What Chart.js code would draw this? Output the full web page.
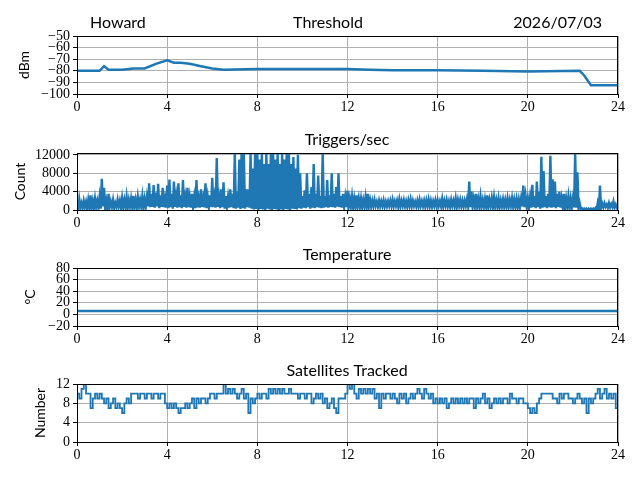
<!DOCTYPE html>
<html>
<head>
<meta charset="utf-8">
<script src="https://cdn.jsdelivr.net/npm/chart.js@4.4.1/dist/chart.umd.min.js"></script>
<style>
  html, body { margin: 0; padding: 0; background: #fff; }
  #page { position: relative; width: 640px; height: 480px; overflow: hidden; }
  #page canvas { position: absolute; left: 0; }
</style>
</head>
<body>
<div id="page"></div>
<script>
// hours of the day on the x axis
const hourTicks = [0, 4, 8, 12, 16, 20, 24];
const sampleStep = 0.1;   // h between samples of the dense series

// Threshold (dBm)
const thresholdHours = [0, 0.5, 1.0, 1.2, 1.4, 2.0, 2.5, 3.0, 3.5, 4.0, 4.3, 4.6, 5.0, 5.5, 6.0, 6.5, 8, 10, 12, 13, 14, 16, 18, 20, 22.3, 22.5, 22.8, 24];
const thresholdDbm = [-80, -80, -80, -76, -79, -79, -78, -78, -74, -71, -73, -73, -74, -76, -78, -79, -78.5, -78.5, -78.5, -79, -79.5, -79.5, -80, -80.5, -80, -84, -92.5, -92.5];
const thresholdTicks = [-100, -90, -80, -70, -60, -50];

// Triggers/sec: highs of the noisy trace at each 0.1 h, one row per hour
const triggerPeak = [
  1800, 2400, 1500, 2000, 1800, 2200, 3200, 2000, 2500, 2000,
  2800, 6800, 4800, 2000, 3500, 1800, 2200, 1500, 2200, 2000,
  2600, 2200, 2900, 2200, 2500, 3100, 2200, 2800, 2200, 3000,
  2400, 2800, 5800, 3500, 5400, 3800, 5700, 3200, 4800, 2400,
  5300, 6600, 3500, 6200, 3000, 5800, 3200, 6500, 2800, 4800,
  2800, 3500, 2800, 6500, 2500, 4500, 2600, 5800, 2800, 3200,
  7000, 2800, 11300, 2800, 4500, 6000, 3000, 2800, 4500, 3500,
  12400, 4000, 11000, 12400, 12400, 4500, 4500, 12400, 9000, 12400,
  12400, 11000, 12400, 10000, 12400, 10000, 12400, 12400, 11000, 12400,
  10000, 12400, 11000, 12400, 12400, 10000, 11500, 9000, 12000, 8000,
  3000, 4300, 8000, 3500, 5000, 10000, 3500, 7500, 3000, 12400,
  3000, 6500, 3200, 8000, 3500, 5000, 8000, 3000, 3500, 2800,
  4200, 2500, 3000, 2500, 3200, 2500, 2500, 2200, 2800, 3500,
  2200, 2000, 2200, 1800, 2000, 1900, 2100, 1800, 1900, 2000,
  2200, 1900, 2000, 2300, 2000, 2100, 1900, 2100, 2300, 2000,
  1800, 2000, 2200, 1900, 2000, 2100, 2300, 2000, 1900, 2100,
  2100, 1900, 2400, 2000, 2200, 1900, 2200, 2000, 2500, 2200,
  2200, 2000, 2000, 2300, 6200, 4000, 2500, 3500, 2400, 3000,
  2200, 2400, 3200, 2200, 2600, 2800, 2200, 2500, 2100, 2300,
  2200, 2500, 2200, 2600, 2300, 2400, 2300, 2500, 5300, 3000,
  2500, 2800, 5500, 3000, 6200, 4000, 11600, 8500, 3000, 3500,
  11800, 6700, 6200, 3500, 4000, 2500, 3500, 2500, 3000, 2500,
  2500, 12400, 8200, 1500, 400, 300, 300, 300, 300, 300,
  400, 1500, 5300, 1400, 1500, 1200, 1500, 1300, 1800, 1200,
  1000
];
// lows of the same trace, half a step after each high
const triggerFloor = [
  300, 600, 400, 700, 300, 600, 500, 400, 700, 500,
  300, 800, 500, 200, 600, 700, 500, 600, 800, 500,
  600, 700, 500, 800, 600, 700, 500, 800, 700, 600,
  700, 800, 600, 700, 500, 800, 400, 700, 600, 500,
  400, 600, 300, 700, 500, 600, 400, 700, 500, 600,
  500, 700, 400, 600, 500, 700, 600, 400, 700, 600,
  600, 500, 700, 400, 600, 300, 700, 500, 600, 400,
  300, 500, 200, 400, 300, 600, 500, 300, 100, 200,
  0, 200, 100, 0, 300, 100, 0, 200, 100, 0,
  100, 0, 200, 100, 0, 300, 200, 100, 400, 300,
  500, 400, 600, 300, 500, 400, 600, 500, 400, 500,
  600, 500, 700, 600, 500, 700, 600, 500, 700, 600,
  700, 800, 600, 700, 800, 700, 600, 800, 700, 800,
  700, 800, 900, 700, 800, 900, 700, 800, 900, 800,
  800, 900, 700, 800, 900, 800, 700, 900, 800, 900,
  800, 700, 900, 800, 700, 900, 800, 700, 900, 800,
  900, 800, 700, 900, 800, 700, 900, 800, 700, 900,
  800, 700, 900, 800, 600, 700, 900, 800, 700, 800,
  700, 800, 600, 900, 700, 800, 700, 600, 800, 700,
  800, 700, 900, 700, 800, 600, 700, 800, 600, 700,
  600, 500, 700, 400, 600, 300, 500, 600, 400, 600,
  500, 600, 400, 700, 500, 600, 500, 700, 600, 500,
  600, 500, 400, 300, 0, 0, 0, 0, 0, 0,
  0, 300, 500, 600, 700, 500, 600, 700, 500, 600
];
const triggerTicks = [0, 4000, 8000, 12000];

// Temperature (°C)
const temperatureHours = [0, 24];
const temperatureC = [6, 6];
const temperatureTicks = [-20, 0, 20, 40, 60, 80];

// Satellites tracked, one row per hour
const satellitesTracked = [
  10, 9, 11, 12, 10, 10, 7, 9, 10, 9,
  10, 9, 8, 9, 7, 8, 9, 7, 8, 7,
  6, 8, 9, 8, 10, 10, 10, 9, 10, 10,
  9, 10, 10, 9, 10, 10, 9, 10, 10, 8,
  7, 8, 7, 8, 7, 6, 7, 7, 8, 7,
  8, 9, 7, 9, 8, 9, 9, 8, 9, 10,
  10, 9, 10, 10, 10, 12, 10, 11, 10, 11,
  10, 9, 10, 11, 9, 10, 6, 9, 8, 9,
  10, 9, 10, 10, 9, 11, 10, 11, 10, 11,
  10, 11, 10, 10, 11, 10, 10, 10, 9, 10,
  10, 9, 10, 10, 8, 9, 10, 9, 10, 8,
  9, 7, 8, 9, 7, 6, 9, 9, 9, 10,
  12, 11, 12, 10, 9, 11, 10, 11, 10, 11,
  10, 11, 9, 10, 7, 10, 9, 10, 10, 9,
  10, 9, 8, 10, 9, 10, 8, 9, 10, 9,
  10, 11, 10, 9, 11, 10, 9, 10, 8, 9,
  8, 9, 8, 9, 7, 8, 9, 8, 9, 8,
  9, 8, 9, 8, 9, 9, 7, 9, 8, 9,
  10, 8, 9, 7, 8, 9, 8, 9, 8, 9,
  9, 8, 10, 9, 9, 8, 9, 9, 8, 8,
  7, 6, 7, 6, 8, 9, 10, 10, 10, 10,
  10, 9, 9, 8, 10, 9, 10, 10, 9, 9,
  8, 9, 10, 9, 8, 9, 6, 9, 8, 9,
  10, 11, 9, 10, 11, 9, 10, 9, 10, 7,
  10
];
const satelliteTicks = [0, 4, 8, 12];

const lineBlue = '#1f77b4';
const tickFont = { family: "'Liberation Serif', 'DejaVu Serif', serif", size: 14 };

function pairs(xs, ys) {
  return ys.map((y, i) => ({ x: xs[i], y: y }));
}
function sampled(ys) {
  return ys.map((y, i) => ({ x: +(i * sampleStep).toFixed(2), y: y }));
}
// high, low, high, low ... so the trace reads as one noisy line
function zigzag(highs, lows) {
  const pts = [];
  highs.forEach((h, i) => {
    pts.push({ x: +(i * sampleStep).toFixed(3), y: h });
    if (i < lows.length) pts.push({ x: +((i + 0.5) * sampleStep).toFixed(3), y: lows[i] });
  });
  return pts;
}
function fmt(v) {
  return String(v).replace('-', '\u2212');
}
function trace(data, width, extra) {
  return Object.assign({
    data: data,
    borderColor: lineBlue,
    borderWidth: width,
    pointRadius: 0,
    tension: 0,
    fill: false
  }, extra || {});
}

// frame, titles and y label, drawn like the matplotlib figure
const panelDecor = {
  id: 'panelDecor',
  afterDraw(chart, args, opts) {
    const { ctx, chartArea: a } = chart;
    ctx.save();
    ctx.strokeStyle = '#000';
    ctx.lineWidth = 1;
    ctx.strokeRect(Math.round(a.left) + 0.5, Math.round(a.top) + 0.5,
      Math.round(a.right - a.left) - 1, Math.round(a.bottom - a.top));
    ctx.fillStyle = '#000';
    ctx.font = '16px Lato';
    ctx.textBaseline = 'alphabetic';
    opts.titles.forEach(t => {
      ctx.textAlign = t.align;
      ctx.fillText(t.text, t.x, a.top - 8);
    });
    ctx.translate(opts.yLabelX, (a.top + a.bottom) / 2);
    ctx.rotate(-Math.PI / 2);
    ctx.textAlign = 'center';
    ctx.textBaseline = 'middle';
    ctx.font = '14px Lato';
    ctx.fillText(opts.yLabel, 0, 0);
    ctx.restore();
  }
};

const panels = [
  { top: 36, plotH: 58, yTicks: thresholdTicks, yMin: -100, yMax: -50, yLabel: 'dBm', yLabelX: 24,
    datasets: [trace(pairs(thresholdHours, thresholdDbm), 2.5)],
    titles: [{ text: 'Howard', x: 90, align: 'left' }, { text: 'Threshold', x: 328, align: 'center' },
             { text: '2026/07/03', x: 602, align: 'right' }] },
  { top: 153, plotH: 57, yTicks: triggerTicks, yMin: 0, yMax: 12400, yLabel: 'Count', yLabelX: 20,
    datasets: [trace(zigzag(triggerPeak, triggerFloor), 2.4)],
    titles: [{ text: 'Triggers/sec', x: 347, align: 'center' }] },
  { top: 268, plotH: 58, yTicks: temperatureTicks, yMin: -20, yMax: 80, yLabel: '\u00b0C', yLabelX: 30,
    datasets: [trace(pairs(temperatureHours, temperatureC), 2.5)],
    titles: [{ text: 'Temperature', x: 347, align: 'center' }] },
  { top: 384, plotH: 58, yTicks: satelliteTicks, yMin: 0, yMax: 12, yLabel: 'Number', yLabelX: 40,
    datasets: [trace(sampled(satellitesTracked), 1.8, { stepped: true })],
    titles: [{ text: 'Satellites Tracked', x: 347, align: 'center' }] }
];

const page = document.getElementById('page');

panels.forEach(p => {
  const padTop = 30, axisH = 26;
  const canvas = document.createElement('canvas');
  canvas.width = 640;
  canvas.height = p.plotH + padTop + axisH;
  canvas.style.top = (p.top - padTop) + 'px';
  page.appendChild(canvas);

  new Chart(canvas.getContext('2d'), {
    type: 'line',
    data: { datasets: p.datasets },
    options: {
      responsive: false,
      animation: false,
      events: [],
      layout: { padding: { top: padTop, right: 22, left: 0, bottom: 0 } },
      plugins: {
        legend: { display: false },
        tooltip: { enabled: false },
        panelDecor: { titles: p.titles, yLabel: p.yLabel, yLabelX: p.yLabelX }
      },
      scales: {
        x: {
          type: 'linear', min: 0, max: 24,
          afterBuildTicks: s => { s.ticks = hourTicks.map(v => ({ value: v })); },
          afterFit: s => { s.height = axisH; },
          ticks: { font: tickFont, color: '#000', padding: 1, maxRotation: 0, autoSkip: false, callback: v => fmt(v) },
          grid: { color: '#b0b0b0', lineWidth: 1, tickColor: '#000', tickLength: 4 },
          border: { display: false }
        },
        y: {
          type: 'linear', min: p.yMin, max: p.yMax,
          afterBuildTicks: s => { s.ticks = p.yTicks.map(v => ({ value: v })); },
          afterFit: s => { s.width = 77; },
          ticks: { font: tickFont, color: '#000', padding: 3, autoSkip: false, callback: v => fmt(v) },
          grid: { color: '#b0b0b0', lineWidth: 1, tickColor: '#000', tickLength: 4 },
          border: { display: false }
        }
      }
    },
    plugins: [panelDecor]
  });
});
</script>
</body>
</html>
